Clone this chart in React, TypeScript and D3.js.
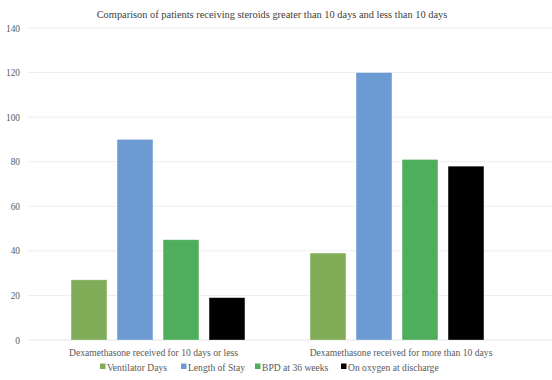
import React from "react";
import * as d3 from "d3";

const categories = [
  "Dexamethasone received for 10 days or less",
  "Dexamethasone received for more than 10 days",
];
const seriesNames = ["Ventilator Days", "Length of Stay", "BPD at 36 weeks", "On oxygen at discharge"];
const seriesColors = ["#80AB57", "#6B9BD2", "#4FAE5C", "#000000"];
const ventilatorDays = [27, 39];
const lengthOfStay = [90, 120];
const bpd36 = [45, 81];
const oxygenDischarge = [19, 78];
const yTicks = [0, 20, 40, 60, 80, 100, 120, 140];
const title = "Comparison of patients receiving steroids greater than 10 days and less than 10 days";

const W = 552;
const H = 380;
const FONT = "Liberation Serif, Times New Roman, DejaVu Serif, serif";

export default function App() {
  const values = [ventilatorDays, lengthOfStay, bpd36, oxygenDischarge];
  const y = d3.scaleLinear().domain([0, 140]).range([340, 28]);
  const x0 = d3.scaleBand().domain(categories).range([40, 518]).padding(0);
  const x1 = d3.scaleBand().domain(seriesNames).range([-92, 92]).paddingInner(0.22).paddingOuter(0.11);

  const legendX = [100, 181, 255, 341];
  const txt = (extra: React.CSSProperties = {}) => ({ fontFamily: FONT, ...extra });

  return (
    <svg width={W} height={H} style={{ position: "absolute", left: 0, top: 0, background: "#fff" }}>
      <rect width={W} height={H} fill="#fff" />
      <text x={272} y={18} textAnchor="middle" style={txt()} fontSize={10.4} fill="#404040">
        {title}
      </text>
      {yTicks.map((t) => (
        <g key={t}>
          <line x1={28} x2={552} y1={y(t)} y2={y(t)} stroke={t === 0 ? "#E4E4E4" : "#EDEDED"} strokeWidth={1} />
          <text x={20} y={y(t) + 3.5} textAnchor="end" style={txt()} fontSize={9.4} fill="#595959">
            {t}
          </text>
        </g>
      ))}
      {categories.map((c, ci) => (
        <g key={c}>
          {seriesNames.map((s, si) => {
            const cx = x0(c)! + x0.bandwidth() / 2;
            const v = values[si][ci];
            return (
              <rect
                key={s}
                x={cx + x1(s)! - 1.5}
                y={y(v)}
                width={x1.bandwidth()}
                height={y(0) - y(v)}
                fill={seriesColors[si]}
                stroke="#ffffff"
                strokeOpacity={0.4}
                strokeWidth={0.8}
              />
            );
          })}
          <text
            x={ci === 0 ? 153.5 : 401}
            y={356}
            textAnchor="middle"
            style={txt()}
            fontSize={9.6}
            fill="#595959"
          >
            {c}
          </text>
        </g>
      ))}
      {seriesNames.map((s, i) => (
        <g key={s}>
          <rect x={legendX[i]} y={363.5} width={5.5} height={5.5} fill={seriesColors[i]} />
          <text x={legendX[i] + 7} y={370.5} style={txt()} fontSize={9.6} fill="#595959">
            {s}
          </text>
        </g>
      ))}
    </svg>
  );
}
